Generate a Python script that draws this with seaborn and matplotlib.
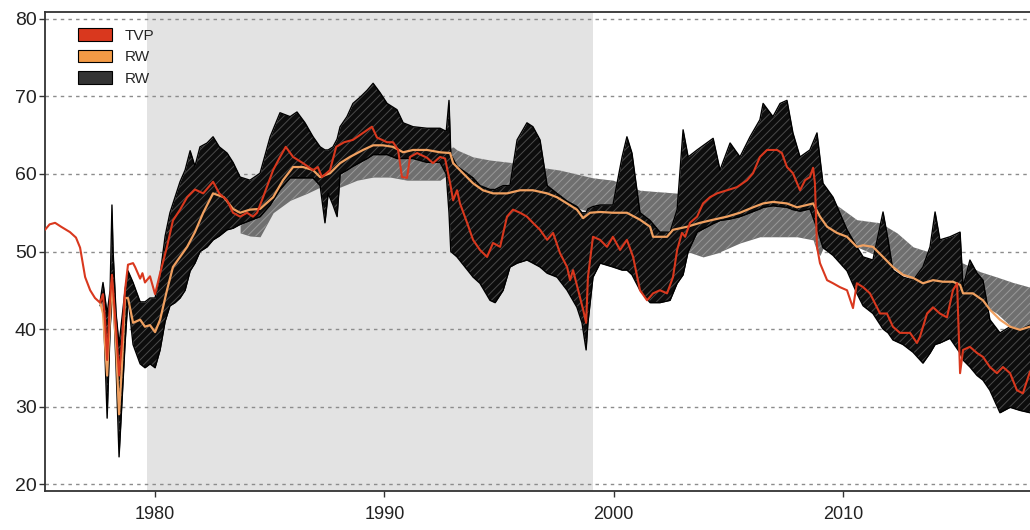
import numpy as np
import pandas as pd
import matplotlib
matplotlib.use("Agg")
import matplotlib.pyplot as plt
import seaborn as sns
from matplotlib.patches import Patch

# ---------------- data ----------------
tvp_year = [1975.20, 1975.40, 1975.64, 1975.90, 1976.29, 1976.55, 1976.73, 1976.95, 1977.17, 1977.38,
            1977.60, 1977.73, 1977.82, 1977.91, 1978.04, 1978.12, 1978.30, 1978.43, 1978.55, 1978.69,
            1978.82, 1979.04, 1979.13, 1979.35, 1979.45, 1979.56, 1979.78, 1980.00, 1980.22, 1980.52,
            1980.78, 1981.09, 1981.40, 1981.74, 1982.10, 1982.53, 1982.80, 1983.14, 1983.40, 1983.71,
            1984.01, 1984.27, 1984.45, 1984.71, 1985.15, 1985.45, 1985.70, 1986.02, 1986.45, 1986.89,
            1987.10, 1987.28, 1987.63, 1987.90, 1988.25, 1988.63, 1989.07, 1989.46, 1989.68, 1990.12,
            1990.38, 1990.60, 1990.77, 1990.99, 1991.12, 1991.43, 1991.86, 1992.12, 1992.43, 1992.65,
            1992.87, 1993.00, 1993.17, 1993.30, 1993.61, 1993.87, 1994.17, 1994.48, 1994.74, 1995.05,
            1995.35, 1995.61, 1995.92, 1996.22, 1996.48, 1996.79, 1997.10, 1997.36, 1997.66, 1997.97,
            1998.10, 1998.23, 1998.53, 1998.67, 1998.80, 1998.88, 1999.10, 1999.41, 1999.71, 1999.97,
            2000.28, 2000.58, 2000.85, 2001.15, 2001.46, 2001.72, 2002.02, 2002.33, 2002.59, 2002.77,
            2002.98, 2003.12, 2003.33, 2003.64, 2003.90, 2004.20, 2004.51, 2004.95, 2005.38, 2005.82,
            2006.08, 2006.38, 2006.69, 2007.13, 2007.34, 2007.56, 2007.82, 2008.13, 2008.35, 2008.56,
            2008.70, 2008.78, 2008.87, 2009.00, 2009.31, 2009.57, 2009.87, 2010.18, 2010.44, 2010.61,
            2010.88, 2011.18, 2011.62, 2011.92, 2012.18, 2012.49, 2012.93, 2013.23, 2013.36, 2013.67,
            2013.93, 2014.23, 2014.54, 2014.80, 2014.98, 2015.11, 2015.24, 2015.54, 2015.85, 2016.11,
            2016.41, 2016.72, 2016.98, 2017.29, 2017.59, 2017.85, 2018.16]
tvp_value = [52.8, 53.5, 53.7, 53.2, 52.5, 51.8, 50.5, 46.7, 45.0, 44.0,
             43.4, 44.5, 41.0, 36.0, 44.0, 47.0, 40.0, 34.0, 38.0, 45.0,
             48.3, 48.5, 48.0, 46.5, 47.2, 46.0, 46.8, 44.5, 47.2, 50.6,
             54.0, 55.4, 57.0, 58.0, 57.5, 59.0, 57.5, 56.6, 55.0, 54.5,
             55.0, 54.5, 55.0, 57.0, 60.5, 62.2, 63.5, 62.2, 61.4, 60.5,
             60.9, 59.6, 60.5, 63.5, 64.1, 64.4, 65.3, 66.1, 64.7, 64.1,
             64.1, 63.1, 59.6, 59.5, 62.2, 62.7, 62.1, 61.4, 62.2, 62.0,
             58.8, 56.6, 57.9, 56.2, 53.7, 51.5, 50.2, 49.3, 51.1, 50.6,
             54.5, 55.4, 55.0, 54.5, 53.7, 52.8, 51.5, 52.4, 49.8, 48.0,
             46.3, 47.6, 44.1, 42.5, 40.8, 46.7, 51.9, 51.5, 50.6, 51.9,
             50.2, 51.5, 49.3, 45.0, 43.7, 44.6, 45.0, 44.6, 46.7, 50.2,
             52.4, 51.9, 53.7, 54.5, 56.2, 57.0, 57.5, 57.9, 58.3, 59.2,
             60.1, 62.2, 63.1, 63.1, 62.7, 60.9, 60.1, 57.9, 59.2, 59.6,
             60.8, 58.8, 50.6, 48.5, 46.3, 45.9, 45.4, 45.0, 42.7, 45.9,
             45.4, 44.6, 42.0, 42.0, 40.3, 39.5, 39.5, 38.2, 39.0, 42.0,
             42.8, 42.0, 41.5, 45.0, 45.9, 34.3, 37.3, 37.7, 36.9, 36.4,
             35.1, 34.3, 35.1, 34.3, 32.1, 31.7, 34.5]

rw_year = [1977.60, 1977.73, 1977.82, 1977.91, 1978.04, 1978.12, 1978.30, 1978.43, 1978.55, 1978.69,
           1978.82, 1979.04, 1979.35, 1979.56, 1979.78, 1980.00, 1980.22, 1980.52, 1980.78, 1981.09,
           1981.40, 1981.74, 1982.10, 1982.53, 1983.00, 1983.40, 1983.71, 1984.14, 1984.58, 1985.15,
           1985.58, 1986.02, 1986.45, 1986.89, 1987.20, 1987.63, 1988.07, 1988.50, 1989.07, 1989.51,
           1989.94, 1990.38, 1990.82, 1991.25, 1991.86, 1992.43, 1992.87, 1993.00, 1993.43, 1993.87,
           1994.30, 1994.74, 1995.35, 1995.92, 1996.48, 1997.10, 1997.53, 1997.97, 1998.40, 1998.67,
           1998.97, 1999.41, 1999.97, 2000.58, 2001.15, 2001.59, 2001.72, 2002.33, 2002.59, 2003.21,
           2003.77, 2004.34, 2004.95, 2005.51, 2006.08, 2006.52, 2006.95, 2007.56, 2008.00, 2008.43,
           2008.70, 2009.00, 2009.31, 2009.74, 2010.18, 2010.31, 2010.61, 2010.88, 2011.31, 2011.75,
           2012.18, 2012.62, 2013.06, 2013.49, 2013.93, 2014.36, 2014.80, 2015.11, 2015.24, 2015.67,
           2016.11, 2016.41, 2016.85, 2017.29, 2017.72, 2018.16]
rw_value = [43.5, 42.0, 38.0, 34.0, 42.0, 46.0, 38.0, 29.0, 35.0, 44.0,
            44.0, 40.8, 41.2, 40.3, 40.5, 39.6, 41.2, 45.0, 48.0, 49.3,
            50.6, 52.5, 55.0, 57.5, 57.0, 55.5, 55.0, 55.4, 55.5, 57.0,
            59.2, 60.9, 60.9, 60.5, 59.6, 60.1, 61.4, 62.2, 63.1, 63.7,
            63.7, 63.5, 62.8, 63.1, 63.1, 62.8, 62.7, 61.4, 60.1, 58.8,
            57.9, 57.5, 57.5, 57.9, 57.9, 57.5, 57.0, 56.2, 55.4, 54.3,
            55.0, 55.1, 55.0, 55.0, 54.1, 53.2, 51.9, 51.9, 52.8, 53.2,
            53.7, 54.1, 54.5, 55.0, 55.7, 56.2, 56.4, 56.2, 55.7, 56.0,
            56.2, 54.5, 53.2, 52.4, 51.9, 51.5, 50.6, 50.8, 50.6, 49.3,
            48.0, 47.0, 46.6, 45.9, 46.3, 46.1, 46.1, 45.7, 44.6, 44.6,
            43.7, 42.5, 41.2, 40.3, 39.9, 40.3]

# envelope of the black fan of RW paths
fan_year = [1977.60, 1977.73, 1977.91, 1978.04, 1978.12, 1978.17, 1978.30, 1978.43, 1978.69, 1978.82,
            1979.04, 1979.35, 1979.56, 1979.78, 1980.00, 1980.22, 1980.44, 1980.65, 1980.87, 1981.09,
            1981.31, 1981.53, 1981.74, 1981.96, 1982.27, 1982.53, 1982.80, 1983.14, 1983.40, 1983.71,
            1984.14, 1984.58, 1985.02, 1985.45, 1985.89, 1986.19, 1986.54, 1986.89, 1987.20, 1987.41,
            1987.55, 1987.76, 1987.94, 1988.07, 1988.37, 1988.63, 1988.94, 1989.25, 1989.51, 1989.81,
            1990.12, 1990.55, 1990.82, 1991.25, 1991.86, 1992.43, 1992.70, 1992.82, 1992.90, 1993.17,
            1993.87, 1994.17, 1994.61, 1994.83, 1995.18, 1995.48, 1995.79, 1996.22, 1996.48, 1996.79,
            1997.10, 1997.53, 1997.97, 1998.40, 1998.62, 1998.80, 1998.88, 1999.10, 1999.41, 1999.97,
            2000.37, 2000.58, 2000.80, 2001.15, 2001.59, 2002.02, 2002.46, 2002.77, 2003.03, 2003.25,
            2003.64, 2004.34, 2004.64, 2005.08, 2005.51, 2005.95, 2006.38, 2006.52, 2006.95, 2007.26,
            2007.56, 2007.82, 2008.13, 2008.56, 2008.87, 2009.13, 2009.57, 2010.18, 2010.61, 2010.88,
            2011.31, 2011.75, 2011.97, 2012.18, 2012.62, 2013.06, 2013.49, 2013.80, 2014.02, 2014.23,
            2014.67, 2015.11, 2015.24, 2015.54, 2015.85, 2016.11, 2016.41, 2016.85, 2017.29, 2017.72,
            2018.16]
fan_upper = [43.5, 46.0, 42.0, 45.0, 56.0, 50.0, 42.0, 38.0, 45.0, 47.5,
             46.0, 43.5, 43.5, 44.0, 44.0, 47.0, 52.0, 55.0, 57.0, 59.0,
             60.5, 63.0, 61.0, 63.5, 64.0, 64.8, 63.5, 62.7, 61.5, 59.6,
             59.2, 60.1, 64.8, 67.9, 67.4, 68.0, 66.6, 64.8, 63.5, 63.1,
             63.1, 63.5, 64.5, 66.1, 67.4, 69.1, 69.9, 70.8, 71.7, 70.5,
             69.1, 68.3, 66.6, 66.1, 65.9, 65.9, 65.5, 69.5, 62.5, 61.0,
             59.5, 58.5, 58.0, 58.0, 58.5, 58.5, 64.4, 66.6, 66.1, 64.4,
             58.5, 57.5, 56.5, 55.8, 55.0, 55.0, 55.5, 55.8, 56.0, 56.0,
             62.2, 64.8, 62.7, 55.0, 54.0, 52.5, 52.5, 55.4, 65.7, 62.2,
             63.1, 64.6, 60.5, 64.0, 62.2, 64.8, 67.0, 69.1, 67.4, 69.1,
             69.5, 65.3, 62.2, 63.1, 65.3, 58.8, 57.0, 52.8, 50.6, 49.3,
             48.9, 55.1, 51.5, 47.6, 46.7, 46.3, 48.0, 50.6, 55.1, 51.5,
             51.9, 52.5, 45.4, 48.9, 47.2, 46.3, 41.2, 39.5, 40.3, 39.9,
             40.5]
fan_lower = [43.0, 44.0, 28.5, 40.0, 44.0, 45.0, 35.0, 23.5, 38.0, 44.0,
             38.0, 35.5, 35.0, 35.5, 35.0, 37.3, 41.0, 43.0, 43.4, 44.0,
             45.0, 47.5, 48.5, 50.0, 50.6, 51.5, 52.0, 52.8, 53.0, 53.5,
             54.0, 54.5, 56.0, 58.0, 59.5, 59.5, 59.5, 59.5, 58.5, 53.7,
             57.5, 56.0, 54.5, 60.0, 60.5, 61.0, 61.5, 62.0, 62.5, 62.5,
             62.5, 62.0, 62.0, 62.0, 61.5, 61.5, 60.0, 55.0, 50.0, 49.3,
             46.7, 45.9, 43.7, 43.4, 45.0, 48.0, 48.5, 48.9, 48.5, 48.0,
             47.2, 46.7, 45.0, 42.8, 40.8, 37.3, 40.8, 46.7, 48.5, 48.0,
             47.6, 47.6, 47.0, 45.0, 43.4, 43.4, 43.7, 45.9, 47.0, 50.0,
             52.5, 53.6, 54.0, 54.2, 54.5, 55.0, 55.5, 55.7, 55.9, 55.8,
             55.7, 55.4, 55.2, 55.5, 53.0, 50.5, 49.5, 47.5, 44.6, 43.0,
             42.0, 40.0, 39.5, 38.6, 38.0, 37.0, 35.6, 36.9, 38.0, 38.2,
             38.8, 36.9, 36.0, 35.1, 34.0, 33.4, 32.1, 29.2, 29.9, 29.5,
             29.2]

# grey band of RW paths
band_year = [1983.71, 1984.14, 1984.58, 1985.15, 1985.89, 1986.63, 1987.20, 1988.07, 1988.81, 1989.51,
             1990.25, 1990.99, 1992.43, 1992.80, 1993.00, 1993.17, 1993.87, 1994.61, 1995.48, 1996.48,
             1997.66, 1998.23, 1999.10, 1999.97, 2001.15, 2002.02, 2002.90, 2003.03, 2003.21, 2003.90,
             2004.51, 2005.51, 2006.38, 2007.26, 2008.00, 2008.70, 2008.87, 2009.00, 2009.44, 2010.61,
             2011.62, 2012.36, 2013.06, 2013.80, 2014.54, 2015.24, 2015.98, 2016.72, 2017.42, 2018.16]
band_upper = [55.5, 56.0, 56.0, 57.5, 60.5, 61.0, 60.0, 61.5, 62.7, 64.0,
              64.0, 63.5, 63.2, 63.2, 63.5, 63.1, 62.2, 61.8, 61.5, 61.0,
              60.5, 60.1, 59.5, 59.2, 57.9, 57.7, 57.5, 53.5, 53.5, 54.0,
              54.5, 55.2, 56.4, 56.6, 56.0, 56.4, 56.6, 56.6, 56.6, 54.1,
              53.7, 52.4, 50.6, 49.9, 48.9, 48.5, 47.4, 46.7, 46.0, 45.4]
band_lower = [52.4, 52.0, 51.9, 55.0, 56.6, 57.5, 58.3, 58.3, 59.2, 59.6,
              59.6, 59.2, 59.2, 60.0, 61.0, 60.5, 58.8, 57.5, 57.5, 57.9,
              57.0, 55.8, 55.0, 55.0, 54.1, 51.9, 52.8, 52.5, 50.0, 49.3,
              49.8, 51.1, 51.9, 51.9, 51.9, 51.5, 50.0, 49.5, 52.5, 50.6,
              49.3, 47.5, 46.3, 45.9, 45.8, 44.3, 43.3, 42.0, 40.1, 40.0]

shade_start, shade_end = 1979.65, 1999.08
y_ticks = [20, 30, 40, 50, 60, 70, 80]
x_ticks = [1980, 1990, 2000, 2010]
legend_labels = ["TVP", "RW", "RW"]

# ---------------- drawing ----------------
sns.set_theme(style="white")
plt.rcParams["font.family"] = ["Liberation Sans", "DejaVu Sans"]
plt.rcParams["hatch.linewidth"] = 0.7

fig = plt.figure(figsize=(10.30, 5.30), dpi=100)
ax = fig.add_axes([45 / 1030, 1 - 491 / 530, (1030 - 45) / 1030, (491 - 12) / 530])

c_tvp = "#d9381e"
c_rw = "#f0a060"
c_dark = "#333333"

ax.axvspan(shade_start, shade_end, color="#e3e3e3", zorder=0, lw=0)
for yv in y_ticks:
    ax.axhline(yv, color="#8c8c8c", lw=1.0, ls=(0, (2.5, 3)), zorder=0.5)

band = pd.DataFrame({"year": band_year, "upper": band_upper, "lower": band_lower})
ax.fill_between(band["year"], band["lower"], band["upper"], color="#6f6f6f", lw=0, zorder=1)
ax.fill_between(band["year"], band["lower"], band["upper"], facecolor="none",
                edgecolor="#b5b5b5", hatch="////", lw=0, zorder=1.1, alpha=0.6)

fan = pd.DataFrame({"year": fan_year, "upper": fan_upper, "lower": fan_lower})
ax.fill_between(fan["year"], fan["lower"], fan["upper"], color="#0d0d0d", lw=0, zorder=2)
ax.fill_between(fan["year"], fan["lower"], fan["upper"], facecolor="none",
                edgecolor="#7d7d7d", hatch="////", lw=0, zorder=2.1, alpha=0.55)
ax.plot(fan["year"], fan["upper"], color="black", lw=1.0, zorder=2.2)
ax.plot(fan["year"], fan["lower"], color="black", lw=1.0, zorder=2.2)

tvp = pd.DataFrame({"year": tvp_year, "value": tvp_value})
rw = pd.DataFrame({"year": rw_year, "value": rw_value})
sns.lineplot(data=rw, x="year", y="value", ax=ax, color=c_rw, lw=1.6, zorder=3, sort=False)
sns.lineplot(data=tvp, x="year", y="value", ax=ax, color=c_tvp, lw=1.5, zorder=4, sort=False)

ax.set_xlim(1975.2, 2018.16)
ax.set_ylim(19.1, 80.9)
ax.set_yticks(y_ticks)
ax.set_xticks(x_ticks)
ax.set_xlabel("")
ax.set_ylabel("")
ax.tick_params(axis="y", labelsize=14, length=4, width=1, color="#333333", direction="out",
               left=True, pad=2, labelcolor="#222222")
ax.tick_params(axis="x", labelsize=13, length=4, width=1, color="#333333", direction="out",
               bottom=True, pad=7, labelcolor="#222222")
for side in ["left", "bottom", "top"]:
    ax.spines[side].set_visible(True)
    ax.spines[side].set_color("#333333")
    ax.spines[side].set_linewidth(1.3)
ax.spines["right"].set_visible(False)
ax.grid(False)

handles = [Patch(facecolor=c_tvp, edgecolor="black", lw=0.8),
           Patch(facecolor="#f39a45", edgecolor="black", lw=0.8),
           Patch(facecolor=c_dark, edgecolor="black", lw=0.8)]
ax.legend(handles, legend_labels, loc="upper left", bbox_to_anchor=(0.02, 0.995), frameon=False,
          fontsize=11, handlelength=2.2, handleheight=0.9, labelspacing=0.45, handletextpad=0.8)

fig.savefig("out.png", dpi=100)
